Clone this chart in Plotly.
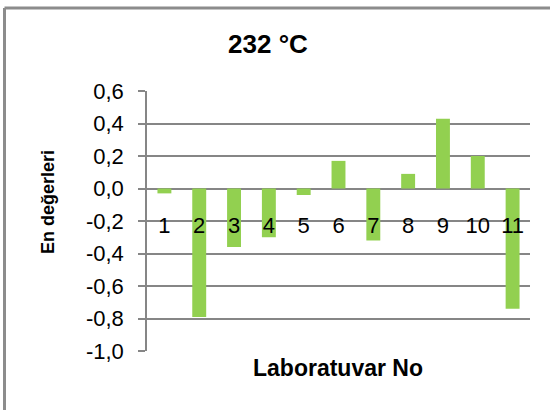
import plotly.graph_objects as go

labs = ["1", "2", "3", "4", "5", "6", "7", "8", "9", "10", "11"]
en_values = [-0.03, -0.79, -0.36, -0.30, -0.04, 0.17, -0.32, 0.09, 0.43, 0.20, -0.74]
y_ticks = [0.6, 0.4, 0.2, 0.0, -0.2, -0.4, -0.6, -0.8, -1.0]
y_tick_text = [f"{v:.1f}".replace(".", ",") for v in y_ticks]

FONT = "Liberation Sans, Arial, sans-serif"
GRID = "rgb(134,134,134)"

fig = go.Figure(go.Bar(
    x=labs, y=en_values, marker_color="rgb(146,208,80)", marker_line_width=0,
    width=0.4,
))

fig.update_layout(
    width=550, height=410,
    margin=dict(l=147, r=20, t=91, b=59),
    paper_bgcolor="white", plot_bgcolor="white",
    showlegend=False,
    font=dict(family=FONT, color="black"),
    title=dict(text="<b>232 °C</b>", x=268/550, xanchor="center", y=1-44/410, yanchor="middle",
               font=dict(size=26, family=FONT, color="black")),
)

fig.update_yaxes(
    range=[-1.0, 0.6], tickvals=y_ticks, ticktext=y_tick_text,
    showgrid=True, gridcolor=GRID, gridwidth=1.5,
    showline=True, linecolor=GRID, linewidth=1.5,
    ticks="outside", ticklen=7, tickcolor=GRID, tickwidth=1.5,
    tickfont=dict(size=22, family=FONT, color="black"),
    ticklabelstandoff=10,
    zeroline=False, fixedrange=True,
)
fig.update_xaxes(
    anchor="free", position=0.625, showline=False, ticks="",
    showgrid=False, zeroline=False,
    tickfont=dict(size=22, family=FONT, color="black"),
    ticklabelstandoff=21,
)

fig.add_annotation(text="<b>Laboratuvar No</b>", xref="paper", yref="paper",
                   x=(338-147)/383, y=-(368-351)/260, xanchor="center", yanchor="middle",
                   showarrow=False, font=dict(size=23, family=FONT, color="black"))
fig.add_annotation(text="<b>En değerleri</b>", xref="paper", yref="paper",
                   x=(48-147)/383, y=1-(202-91)/260, xanchor="center", yanchor="middle",
                   textangle=-90, showarrow=False, font=dict(size=18, family=FONT, color="black"))

# outer chart frame (left and top edges visible)
fig.add_shape(type="line", xref="paper", yref="paper",
              x0=(4.5-147)/383, x1=(4.5-147)/383, y0=-2, y1=1+(91-8)/260,
              line=dict(color="rgb(140,140,140)", width=3))
fig.add_shape(type="line", xref="paper", yref="paper",
              x0=(4.5-147)/383, x1=3, y0=1+(91-8)/260, y1=1+(91-8)/260,
              line=dict(color="rgb(140,140,140)", width=3))

fig.write_html("out.html")
